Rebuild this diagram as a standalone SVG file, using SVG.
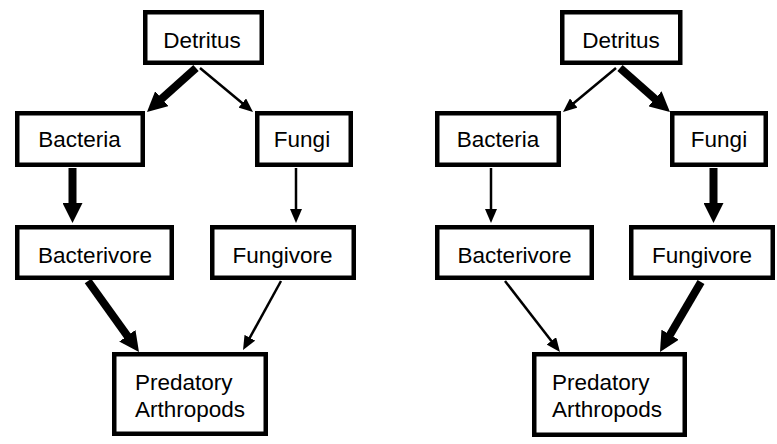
<svg xmlns="http://www.w3.org/2000/svg" width="777" height="444" viewBox="0 0 777 444">
<style>
.box{fill:#fff;stroke:#000;stroke-width:4.5}
.t{font-family:"Liberation Sans",Arial,sans-serif;font-size:22.5px;fill:#000;text-anchor:middle}
.tl{font-family:"Liberation Sans",Arial,sans-serif;font-size:22.5px;fill:#000}
.thick{stroke:#000;stroke-width:8;fill:none;marker-end:url(#hk)}
.thin{stroke:#000;stroke-width:2.5;fill:none;marker-end:url(#hn)}
</style>
<defs>
<marker id="hk" markerUnits="userSpaceOnUse" markerWidth="20" markerHeight="20" viewBox="0 0 20 20" refX="1" refY="10" orient="auto"><path d="M0,0 L20,10 L0,20 z" fill="#000"/></marker>
<marker id="hn" markerUnits="userSpaceOnUse" markerWidth="14" markerHeight="12" viewBox="0 0 14 12" refX="1" refY="6" orient="auto"><path d="M0,0 L14,6 L0,12 z" fill="#000"/></marker>
</defs>
<rect width="777" height="444" fill="#fff"/>
<g id="connectors">
<line class="thick" x1="196" y1="68" x2="161.1" y2="99.3"/>
<line class="thin" x1="200" y1="68" x2="243" y2="103.7"/>
<line class="thick" x1="72.5" y1="168" x2="72.5" y2="204"/>
<line class="thin" x1="296" y1="168" x2="296" y2="210"/>
<line class="thick" x1="88" y1="281" x2="127.9" y2="336.6"/>
<line class="thin" x1="281" y1="281" x2="249.3" y2="338.6"/>
<line class="thin" x1="616" y1="68" x2="573" y2="103.7"/>
<line class="thick" x1="620" y1="68" x2="655.7" y2="99.4"/>
<line class="thin" x1="491" y1="168" x2="491" y2="210"/>
<line class="thick" x1="713.5" y1="168" x2="713.5" y2="204"/>
<line class="thin" x1="505" y1="281" x2="552" y2="341.7"/>
<line class="thick" x1="701" y1="282" x2="669.6" y2="335.6"/>
</g>
<g id="L-detritus"><rect class="box" x="145.25" y="12.25" width="116.5" height="50.5"/><text class="t" x="202" y="48">Detritus</text></g>
<g id="L-bacteria"><rect class="box" x="17.25" y="113.25" width="125.5" height="51.5"/><text class="t" x="79.5" y="147">Bacteria</text></g>
<g id="L-fungi"><rect class="box" x="257.25" y="113.25" width="93.5" height="51.5"/><text class="t" x="302" y="147">Fungi</text></g>
<g id="L-bacterivore"><rect class="box" x="17.25" y="227.25" width="154.5" height="50.5"/><text class="t" x="95" y="263">Bacterivore</text></g>
<g id="L-fungivore"><rect class="box" x="212.25" y="227.25" width="141.5" height="50.5"/><text class="t" x="282.5" y="263">Fungivore</text></g>
<g id="L-predatory"><rect class="box" x="114.25" y="354.25" width="151.5" height="79.5"/><text class="tl" x="135" y="390">Predatory</text><text class="tl" x="135" y="417">Arthropods</text></g>
<g id="R-detritus"><rect class="box" x="562.25" y="12.25" width="118" height="50.5"/><text class="t" x="621" y="48">Detritus</text></g>
<g id="R-bacteria"><rect class="box" x="437.25" y="113.25" width="121.5" height="51.5"/><text class="t" x="498" y="147">Bacteria</text></g>
<g id="R-fungi"><rect class="box" x="672.25" y="113.25" width="93.5" height="51.5"/><text class="t" x="719" y="147">Fungi</text></g>
<g id="R-bacterivore"><rect class="box" x="437.25" y="227.25" width="154.5" height="50.5"/><text class="t" x="514.5" y="263">Bacterivore</text></g>
<g id="R-fungivore"><rect class="box" x="631.25" y="227.25" width="141.5" height="50.5"/><text class="t" x="702" y="263">Fungivore</text></g>
<g id="R-predatory"><rect class="box" x="534.25" y="354.25" width="150.5" height="80.5"/><text class="tl" x="552" y="390">Predatory</text><text class="tl" x="552" y="417">Arthropods</text></g>
</svg>
